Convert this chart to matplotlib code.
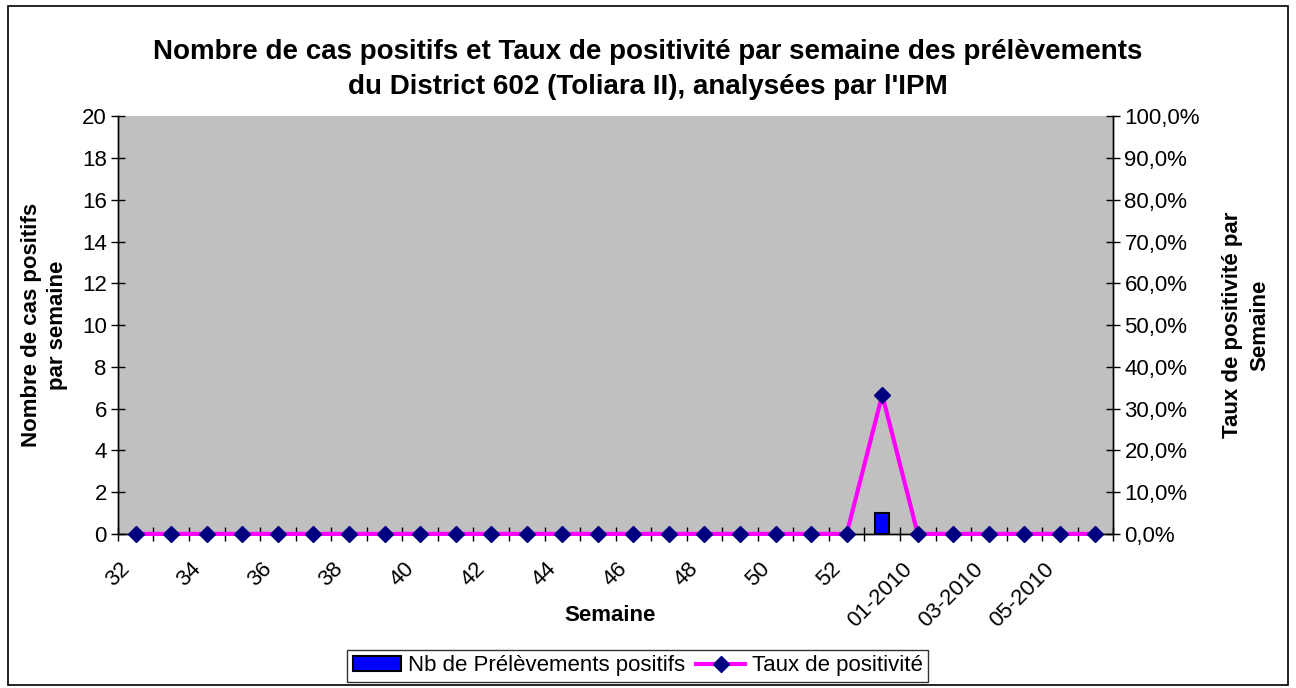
import matplotlib
matplotlib.use("Agg")
import matplotlib.pyplot as plt
from matplotlib.patches import Rectangle
from matplotlib.ticker import FuncFormatter
from matplotlib.transforms import ScaledTranslation

plt.rcParams['font.family'] = ['Liberation Sans', 'DejaVu Sans']

# semaines (2009 puis 2010)
semaines = [str(w) for w in range(32, 54)] + ['01-2010', '02-2010', '03-2010',
                                              '04-2010', '05-2010', '06-2010']
# nombre de prelevements positifs par semaine
positifs = [0] * 21 + [1] + [0] * 6
# taux de positivite (%)
taux = [0] * 21 + [33.3] + [0] * 6

fig = plt.figure(figsize=(12.96, 6.88), dpi=100)
ax = fig.add_axes([0.091, 0.224, 0.768, 0.607])
ax2 = ax.twinx()

x = range(len(semaines))

# barres
ax.bar(x, positifs, width=0.4, color='#0000FF', edgecolor='black', linewidth=1.5,
       zorder=2, label='Nb de Prélèvements positifs')
ax.set_facecolor('#C0C0C0')
ax.set_xlim(-0.5, len(semaines) - 0.5)
ax.set_ylim(0, 20)
ax.set_yticks(range(0, 21, 2))

# courbe du taux
ax2.plot(x, taux, color='#FF00FF', linewidth=3, marker='D', markersize=8.5,
         markerfacecolor='#000080', markeredgecolor='#000080', zorder=3,
         clip_on=False, label='Taux de positivité')
ax2.set_ylim(0, 100)
ax2.set_yticks(range(0, 101, 10))
ax2.yaxis.set_major_formatter(FuncFormatter(lambda v, p: f'{v:.1f}%'.replace('.', ',')))

# ticks: traits aux limites des categories, etiquettes une sur deux
ax.set_xticks([i - 0.5 for i in range(len(semaines) + 1)])
ax.set_xticklabels([])
ax.set_xticks(list(range(0, len(semaines), 2)), minor=True)
ax.set_xticklabels(semaines[::2], minor=True, rotation=45, ha='right', va='center',
                   rotation_mode='anchor', fontsize=16)
ax.tick_params(axis='x', which='minor', length=0, pad=23)
ax.tick_params(axis='x', which='major', direction='inout', length=10, width=1)
ax.tick_params(axis='y', direction='inout', length=10, width=1, labelsize=16, pad=3)
ax2.tick_params(axis='y', direction='inout', length=10, width=1, labelsize=16, pad=3)
# petit decalage vers la gauche des etiquettes (comme dans Excel)
shift = ScaledTranslation(-0.09, 0, fig.dpi_scale_trans)
for lab in ax.get_xticklabels(minor=True):
    lab.set_transform(lab.get_transform() + shift)

for a in (ax, ax2):
    a.spines['top'].set_visible(False)
    for s in ('left', 'right', 'bottom'):
        a.spines[s].set_color('black')
        a.spines[s].set_linewidth(1)

ax.set_ylabel('Nombre de cas positifs\npar semaine', fontsize=16, fontweight='bold',
              labelpad=10, linespacing=1.3)
ax2.set_ylabel('Taux de positivité par\nSemaine', fontsize=16, fontweight='bold',
               rotation=90, labelpad=16, linespacing=1.4)
ax.set_xlabel('Semaine', fontsize=16, fontweight='bold', va='center')
ax.xaxis.set_label_coords(0.494, -0.195)

fig.suptitle("Nombre de cas positifs et Taux de positivité par semaine des prélèvements\n"
             "du District 602 (Toliara II), analysées par l'IPM",
             fontsize=20, fontweight='bold', y=0.943, linespacing=1.45)

# legende
h1, l1 = ax.get_legend_handles_labels()
h2, l2 = ax2.get_legend_handles_labels()
fig.legend(h1 + h2, l1 + l2, loc='center', bbox_to_anchor=(0.492, 0.032), ncol=2,
           fontsize=16, frameon=True, fancybox=False, edgecolor='black',
           handlelength=2.2, handletextpad=0.3, columnspacing=0.5, borderpad=0.25)
leg = fig.legends[0]
leg.get_frame().set_linewidth(1)

# cadre du graphique
fig.patches.append(Rectangle((0.006, 0.004), 0.988, 0.988, transform=fig.transFigure,
                             fill=False, edgecolor='black', linewidth=1.2))

fig.savefig('out.png', dpi=100)
